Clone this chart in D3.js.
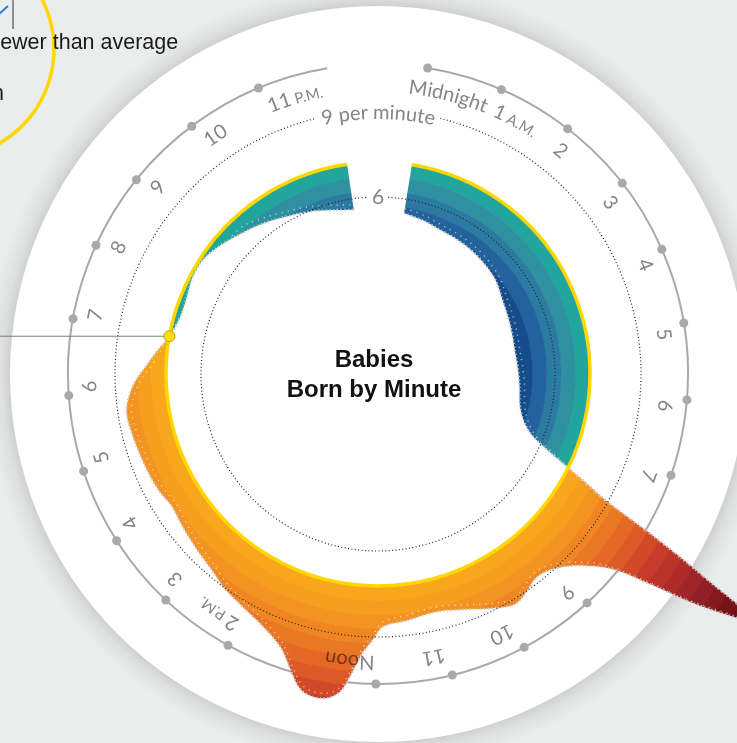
<!DOCTYPE html>
<html>
<head>
<meta charset="utf-8">
<script src="https://cdn.jsdelivr.net/npm/d3@7"></script>
<style>
  html, body { margin: 0; padding: 0; background: #ebecec; overflow: hidden; }
  svg { display: block; }
  .hour-label { font-family: Lato, "Open Sans", sans-serif; fill: #858585; }
</style>
</head>
<body>
<svg id="chart" width="737" height="743"></svg>
<script>
// time of day of each reading, in hours after midnight
const readingHours = [
  0, 0.5, 1, 1.5, 2, 2.5, 3, 3.5, 4, 4.5, 5, 5.5, 6, 6.5, 6.8, 7, 7.2, 7.35,
  7.5, 7.6, 7.7, 7.8, 7.9, 8, 8.1, 8.2, 8.3, 8.45, 8.65, 8.9, 9.15, 9.35, 9.55,
  9.8, 10.1, 10.5, 11, 11.5, 11.9, 12.05, 12.2, 12.35, 12.45, 12.6, 12.8, 12.95,
  13.1, 13.35, 13.75, 14.1, 14.45, 14.85, 15.2, 15.6, 16, 16.3, 16.7, 17.3, 17.7,
  18.1, 18.45, 18.7, 19, 19.4, 19.8, 20.2, 20.6, 21, 21.5, 22, 22.5, 23, 23.5, 24
];
// babies born per minute at that time
const birthsPerMinute = [
  5.51, 5.41, 5.30, 5.27, 5.23, 5.16, 5.06, 4.88, 4.78, 4.71, 4.67, 4.71, 4.78, 4.88, 5.06, 5.27, 5.65, 6.28,
  7.22, 8.02, 8.96, 10.99, 13.25, 15.52, 14.48, 13.25, 11.86, 10.46, 9.70, 9.14, 8.86, 8.83, 9.00,
  9.17, 8.96, 8.62, 8.37, 8.48, 8.65, 9.10, 9.59, 10.46, 10.99, 11.27, 11.30, 11.13,
  10.67, 9.94, 9.45, 9.21, 9.03, 8.76, 8.62, 8.48, 8.37, 8.48, 8.55, 8.65, 8.69,
  8.37, 7.88, 7.57, 7.22, 7.01, 7.01, 7.12, 7.12, 6.94, 6.66, 6.42, 6.17, 5.97, 5.76, 5.62
];
const averagePerMinute = 7.22;
const hourLabels = ["Midnight", "1 A.M.", "2", "3", "4", "5", "6", "7", "8", "9", "10", "11",
  "Noon", "1", "2 P.M.", "3", "4", "5", "6", "7", "8", "9", "10", "11 P.M."];
const calloutHour = 19;

const cx = 378, cy = 374;
const rad = Math.PI / 180;

const data = readingHours.map((h, i) => ({ h: h, v: birthsPerMinute[i] }));

const angle = d3.scaleLinear().domain([0, 24]).range([9.2 * rad, 351.6 * rad]);
const radius = d3.scaleLinear().domain([6, 9]).range([177, 263]);
const r0 = radius(averagePerMinute);

const svg = d3.select("#chart");
const defs = svg.append("defs");

// soft shadow round the big white disc
const shadow = defs.append("radialGradient").attr("id", "discShadow")
  .attr("gradientUnits", "userSpaceOnUse").attr("cx", cx).attr("cy", cy).attr("r", 392);
shadow.append("stop").attr("offset", 0.935).attr("stop-color", "#cdcdcd");
shadow.append("stop").attr("offset", 0.96).attr("stop-color", "#dedfdf");
shadow.append("stop").attr("offset", 1).attr("stop-color", "#ebecec");

svg.append("rect").attr("width", 737).attr("height", 743).attr("fill", "#ebecec");
svg.append("circle").attr("cx", cx).attr("cy", cy).attr("r", 392).attr("fill", "url(#discShadow)");
svg.append("circle").attr("cx", cx).attr("cy", cy).attr("r", 368).attr("fill", "#fff");

// bits of the legend that stick into the frame
svg.append("circle").attr("cx", -55).attr("cy", 49).attr("r", 109)
  .attr("fill", "none").attr("stroke", "#ffd600").attr("stroke-width", 3.5);
svg.append("path").attr("d", "M-2,15L8,6").attr("stroke", "#2a7fd4").attr("stroke-width", 2);
svg.append("line").attr("x1", 13).attr("x2", 13).attr("y1", 0).attr("y2", 29)
  .attr("stroke", "#333").attr("stroke-width", 1);
svg.append("text").attr("x", -13).attr("y", 49)
  .style("font", "21.5px 'Liberation Sans', Arial, sans-serif").attr("fill", "#1a1a1a")
  .text("Fewer than average");
svg.append("text").attr("x", 4).attr("y", 100).attr("text-anchor", "end")
  .style("font", "21.5px 'Liberation Sans', Arial, sans-serif").attr("fill", "#1a1a1a")
  .text("average pattern");

const g = svg.append("g").attr("transform", `translate(${cx},${cy})`);

function arcPath(r, a0, a1) {
  const p = d3.path();
  p.arc(0, 0, r, a0 - Math.PI / 2, a1 - Math.PI / 2);
  return p.toString();
}
function polar(r, a) { return [r * Math.sin(a), -r * Math.cos(a)]; }

// hour ring
const ringR = 310;
g.append("path").attr("d", arcPath(ringR, angle(0), angle(24) - 1 * rad))
  .attr("fill", "none").attr("stroke", "#a9a9a9").attr("stroke-width", 2);
g.selectAll(".hour-dot").data(d3.range(24)).join("circle")
  .attr("class", "hour-dot")
  .attr("cx", d => polar(ringR, angle(d))[0])
  .attr("cy", d => polar(ringR, angle(d))[1])
  .attr("r", 4.5).attr("fill", "#a9a9a9");

// circle paths for text, starting at the bottom and running clockwise
function circlePath(r) {
  return `M0,${r}A${r},${r} 0 1,1 0,${-r}A${r},${r} 0 1,1 0,${r}`;
}
function offsetOf(a, r) {
  const deg = ((a / rad - 180) % 360 + 360) % 360;
  return deg / 360 * 2 * Math.PI * r;
}
const labelR = 282;
defs.append("path").attr("id", "labelPath").attr("d", circlePath(labelR));
defs.append("path").attr("id", "ninePath").attr("d", circlePath(255));
defs.append("path").attr("id", "sixPath").attr("d", circlePath(170));

function addHourLabel(sel, i) {
  const t = sel.append("text").attr("class", "hour-label").style("font-size", "20px")
    .append("textPath").attr("href", "#labelPath");
  if (i === 0) {
    // "Midnight" is long, so it is set to end just before the 1 A.M. mark
    t.attr("text-anchor", "end").attr("startOffset", offsetOf(angle(1) - 1.3 * rad, labelR));
  } else {
    t.attr("startOffset", offsetOf(angle(i) + 0.3 * rad, labelR));
  }
  const parts = hourLabels[i].split(" ");
  t.append("tspan").text(parts[0]);
  if (parts[1]) t.append("tspan").style("font-size", "15px").text(" " + parts[1]);
}

const labelsUnder = g.append("g");
hourLabels.forEach((d, i) => { if (d !== "Noon") addHourLabel(labelsUnder, i); });

// data shape: between the average circle and the per-minute curve
const area = d3.areaRadial()
  .angle(d => angle(d.h))
  .innerRadius(r0)
  .outerRadius(d => radius(d.v))
  .curve(d3.curveCatmullRom.alpha(0.5));

defs.append("clipPath").attr("id", "dataClip")
  .append("path").attr("d", area(data));

const bandW = radius(6.5) - radius(6);
const warm = d3.scaleLinear()
  .domain([212, 240, 270, 300, 330, 360, 390, 420, 450])
  .range(["#f9ab1b", "#f59b20", "#ed7e23", "#e15f27", "#c93d29", "#b02c29", "#931f25", "#761419", "#600d12"])
  .clamp(true);
const cool = d3.scaleLinear()
  .domain([212, 195, 180, 165, 150, 135])
  .range(["#17b09a", "#3097a0", "#2c80a1", "#2667a0", "#17508f", "#0c3d7a"])
  .clamp(true);
const nWarm = 18, nCool = 6;

const bands = g.append("g").attr("clip-path", "url(#dataClip)");
const ring = d3.arc().startAngle(0).endAngle(2 * Math.PI);
d3.range(nWarm).forEach(k => {
  bands.append("path")
    .attr("d", ring({ innerRadius: r0 + k * bandW, outerRadius: r0 + (k + 1) * bandW + 0.5 }))
    .attr("fill", warm(r0 + (k + 0.5) * bandW));
});
d3.range(nCool).forEach(k => {
  bands.append("path")
    .attr("d", ring({ innerRadius: Math.max(0, r0 - (k + 1) * bandW - 0.5), outerRadius: r0 - k * bandW }))
    .attr("fill", cool(r0 - (k + 0.5) * bandW));
});

// fuzzy edge of the minute readings
const edge = d3.lineRadial()
  .angle(d => angle(d.h))
  .radius(d => radius(d.v))
  .curve(d3.curveCatmullRom.alpha(0.5));
const edgeIn = d3.lineRadial()
  .angle(d => angle(d.h))
  .radius(d => radius(d.v) + (d.v > averagePerMinute ? -5 : 5))
  .curve(d3.curveCatmullRom.alpha(0.5));
g.append("path").attr("d", edgeIn(data.filter(d => Math.abs(radius(d.v) - r0) > 12)))
  .attr("fill", "none").attr("stroke", "#ffffff").attr("stroke-opacity", 0.55)
  .attr("stroke-width", 1.6).attr("stroke-dasharray", "1.2,5");
g.append("path").attr("d", edge(data))
  .attr("fill", "none").attr("stroke", "#c8c8c8").attr("stroke-width", 2.2)
  .attr("stroke-dasharray", "1.3,2.4");

// average line
g.append("path").attr("d", arcPath(r0, angle(0), angle(24)))
  .attr("fill", "none").attr("stroke", "#ffd600").attr("stroke-width", 3.5);

// dotted reference circles
g.append("path").attr("d", arcPath(radius(9), 13.7 * rad, 346.3 * rad))
  .attr("fill", "none").attr("stroke", "#222").attr("stroke-width", 1.2).attr("stroke-dasharray", "1,2.4");
g.append("path").attr("d", arcPath(radius(6), 3.3 * rad, 356.7 * rad))
  .attr("fill", "none").attr("stroke", "#222").attr("stroke-width", 1.2).attr("stroke-dasharray", "1,2.4");

g.append("text").attr("class", "hour-label").style("font-size", "20px")
  .append("textPath").attr("href", "#ninePath").attr("text-anchor", "middle")
  .attr("startOffset", offsetOf(0, 255)).text("9 per minute");
g.append("text").attr("class", "hour-label").style("font-size", "21px")
  .append("textPath").attr("href", "#sixPath").attr("text-anchor", "middle")
  .attr("startOffset", offsetOf(0, 170)).text("6");

const labelsOver = g.append("g").style("mix-blend-mode", "multiply");
addHourLabel(labelsOver, hourLabels.indexOf("Noon"));

// callout where the day crosses back below average
const cp = polar(r0, angle(calloutHour));
g.append("line").attr("x1", -cx).attr("x2", cp[0]).attr("y1", cp[1]).attr("y2", cp[1])
  .attr("stroke", "#7a7a7a").attr("stroke-width", 1);
g.append("circle").attr("cx", cp[0]).attr("cy", cp[1]).attr("r", 5.5)
  .attr("fill", "#ffe100").attr("stroke", "#b89c00").attr("stroke-width", 1);

// title
const title = g.append("text").attr("text-anchor", "middle")
  .style("font", "bold 24px 'Liberation Sans', Arial, sans-serif").attr("fill", "#111");
title.append("tspan").attr("x", -4).attr("y", -7).text("Babies");
title.append("tspan").attr("x", -4).attr("y", 23).text("Born by Minute");
</script>
</body>
</html>
